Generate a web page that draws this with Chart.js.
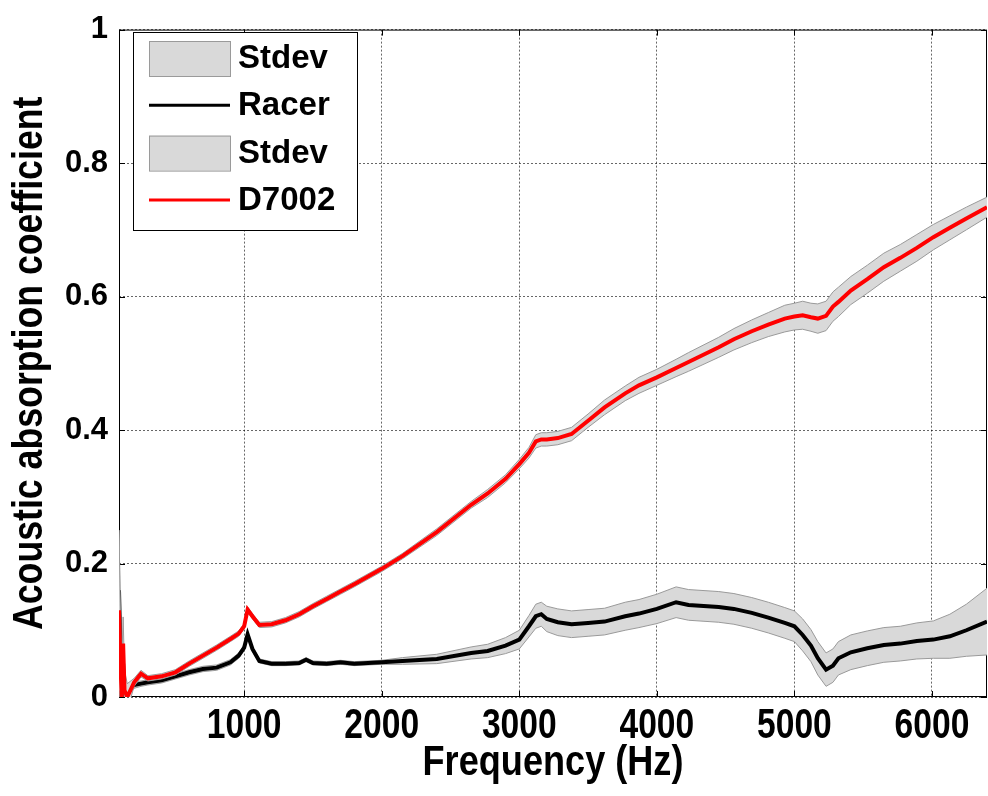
<!DOCTYPE html>
<html>
<head>
<meta charset="utf-8">
<title>Acoustic absorption coefficient</title>
<script src="https://cdn.jsdelivr.net/npm/chart.js@4.4.1/dist/chart.umd.min.js"></script>
<style>
  html, body { margin: 0; padding: 0; background: #fff; }
  #wrap { width: 988px; height: 796px; }
</style>
</head>
<body>
<div id="wrap"><canvas id="absChart" width="988" height="796"></canvas></div>
<script>
const freq = [
  90, 100, 110, 120, 130, 150, 200, 250, 300, 400,
  500, 600, 700, 800, 900, 960, 1000, 1025, 1060, 1110,
  1200, 1300, 1400, 1450, 1500, 1600, 1700, 1800, 2000, 2150,
  2400, 2650, 2770, 2900, 3000, 3070, 3120, 3160, 3200, 3280,
  3380, 3500, 3620, 3770, 3870, 4000, 4140, 4230, 4450, 4560,
  4690, 4810, 4930, 5000, 5060, 5120, 5170, 5230, 5280, 5320,
  5410, 5530, 5650, 5770, 5890, 6010, 6130, 6250, 6400
];

const racerMean = [
  0.16, 0.07, 0.02, 0.05, 0.0, 0.01, 0.018, 0.02, 0.022, 0.025,
  0.031, 0.037, 0.042, 0.044, 0.052, 0.062, 0.074, 0.094, 0.072, 0.054,
  0.05, 0.05, 0.051, 0.056, 0.051, 0.05, 0.052, 0.05, 0.052, 0.054,
  0.057, 0.066, 0.069, 0.077, 0.086, 0.106, 0.121, 0.124, 0.117, 0.112,
  0.109, 0.111, 0.113, 0.121, 0.125, 0.132, 0.142, 0.138, 0.135, 0.132,
  0.126, 0.119, 0.111, 0.106, 0.093, 0.077, 0.058, 0.041, 0.047, 0.058,
  0.067, 0.073, 0.078, 0.08, 0.084, 0.086, 0.091, 0.1, 0.113
];
const racerStd = [
  0.09, 0.06, 0.04, 0.03, 0.02, 0.01, 0.005, 0.004, 0.004, 0.004,
  0.004, 0.004, 0.004, 0.004, 0.004, 0.004, 0.004, 0.004, 0.004, 0.003,
  0.003, 0.003, 0.003, 0.003, 0.003, 0.003, 0.003, 0.003, 0.003, 0.005,
  0.007, 0.009, 0.01, 0.012, 0.014, 0.016, 0.018, 0.018, 0.019, 0.02,
  0.02, 0.02, 0.02, 0.021, 0.021, 0.022, 0.023, 0.023, 0.023, 0.023,
  0.023, 0.023, 0.023, 0.023, 0.024, 0.024, 0.025, 0.025, 0.025, 0.025,
  0.026, 0.026, 0.026, 0.026, 0.027, 0.028, 0.033, 0.039, 0.05
];

const d7002Mean = [
  0.13, 0.05, 0.0, 0.08, 0.01, 0.0, 0.022, 0.035, 0.028, 0.031,
  0.037, 0.05, 0.062, 0.074, 0.087, 0.095, 0.106, 0.131, 0.121, 0.108,
  0.109, 0.115, 0.124, 0.13, 0.136, 0.147, 0.158, 0.169, 0.192, 0.211,
  0.247, 0.288, 0.305, 0.327, 0.349, 0.366, 0.383, 0.386, 0.386, 0.388,
  0.394, 0.414, 0.434, 0.455, 0.467, 0.479, 0.493, 0.502, 0.524, 0.536,
  0.548, 0.558, 0.567, 0.57, 0.572, 0.569, 0.567, 0.571, 0.585, 0.592,
  0.609, 0.626, 0.644, 0.658, 0.673, 0.689, 0.703, 0.717, 0.734
];
const d7002Std = [
  0.12, 0.08, 0.05, 0.04, 0.03, 0.02, 0.006, 0.005, 0.004, 0.004,
  0.004, 0.004, 0.004, 0.004, 0.004, 0.004, 0.004, 0.004, 0.004, 0.004,
  0.004, 0.004, 0.004, 0.004, 0.004, 0.004, 0.004, 0.004, 0.004, 0.004,
  0.005, 0.005, 0.006, 0.006, 0.007, 0.008, 0.01, 0.01, 0.01, 0.01,
  0.01, 0.01, 0.011, 0.011, 0.012, 0.012, 0.013, 0.014, 0.015, 0.016,
  0.017, 0.018, 0.02, 0.02, 0.021, 0.021, 0.022, 0.022, 0.022, 0.022,
  0.021, 0.021, 0.021, 0.02, 0.02, 0.019, 0.018, 0.017, 0.015
];

const xTicks = [1000, 2000, 3000, 4000, 5000, 6000];
const xTickLabels = ['1000', '2000', '3000', '4000', '5000', '6000'];
const yTicks = [0, 0.2, 0.4, 0.6, 0.8, 1];
const yTickLabels = ['0', '0.2', '0.4', '0.6', '0.8', '1'];
const xTitle = 'Frequency (Hz)';
const yTitle = 'Acoustic absorption coefficient';

const FONT = "'Liberation Sans', Arial, sans-serif";
const BAND = '#d9d9d9';
const BAND_EDGE = '#9a9a9a';

const pts = vals => freq.map((f, i) => ({ x: f, y: vals[i] }));
const shifted = (vals, sd, sign) => freq.map((f, i) => ({ x: f, y: vals[i] + sign * sd[i] }));

// no narrow font installed, so squeeze bold Liberation Sans horizontally
function narrowText(ctx, text, x, y, size, squeeze, rot) {
  ctx.save();
  ctx.translate(x, y);
  if (rot) ctx.rotate(rot);
  ctx.scale(squeeze, 1);
  ctx.font = 'bold ' + size + 'px ' + FONT;
  ctx.fillStyle = '#000';
  ctx.textAlign = 'center';
  ctx.textBaseline = 'alphabetic';
  ctx.fillText(text, 0, 0);
  ctx.restore();
}

// matlab style box + inward ticks
const framePlugin = {
  id: 'frame',
  beforeDatasetsDraw(chart) {
    const { ctx, chartArea: a, scales: { x, y } } = chart;
    ctx.save();
    ctx.strokeStyle = '#000';
    ctx.lineWidth = 1;
    ctx.strokeRect(a.left + 0.5, a.top + 0.5, a.right - a.left - 1, a.bottom - a.top - 1);
    ctx.beginPath();
    const tl = 6;
    x.ticks.forEach(t => {
      const px = Math.round(x.getPixelForValue(t.value)) + 0.5;
      ctx.moveTo(px, a.bottom); ctx.lineTo(px, a.bottom - tl);
      ctx.moveTo(px, a.top); ctx.lineTo(px, a.top + tl);
    });
    y.ticks.forEach(t => {
      const py = Math.round(y.getPixelForValue(t.value)) + 0.5;
      ctx.moveTo(a.left, py); ctx.lineTo(a.left + tl, py);
      ctx.moveTo(a.right, py); ctx.lineTo(a.right - tl, py);
    });
    ctx.stroke();
    ctx.restore();
  },
  afterDraw(chart) {
    const { ctx, chartArea: a, scales: { x } } = chart;
    x.ticks.forEach((t, i) => {
      narrowText(ctx, xTickLabels[i], x.getPixelForValue(t.value), a.bottom + 41, 42, 0.8);
    });
    narrowText(ctx, xTitle, (a.left + a.right) / 2, a.bottom + 78, 43, 0.84);
    narrowText(ctx, yTitle, 42, (a.top + a.bottom) / 2, 43, 0.83, -Math.PI / 2);
  }
};

// legend box drawn inside the axes, top left
const legendPlugin = {
  id: 'boxLegend',
  afterDatasetsDraw(chart) {
    const ctx = chart.ctx;
    const items = chart.data.datasets.filter(d => d.legendKind);
    const bx = 133, by = 32, bw = 224, bh = 198;
    ctx.save();
    ctx.fillStyle = '#fff';
    ctx.fillRect(bx, by, bw, bh);
    ctx.strokeStyle = '#000';
    ctx.lineWidth = 1;
    ctx.strokeRect(bx + 0.5, by + 0.5, bw, bh);
    ctx.font = 'bold 33px ' + FONT;
    ctx.textBaseline = 'middle';
    items.forEach((d, i) => {
      const cy = by + 26 + i * 47.3;
      if (d.legendKind === 'box') {
        ctx.fillStyle = d.backgroundColor;
        ctx.fillRect(149, cy - 17, 81, 35);
        ctx.strokeStyle = d.borderColor;
        ctx.strokeRect(149.5, cy - 16.5, 81, 35);
      } else {
        ctx.strokeStyle = d.borderColor;
        ctx.lineWidth = 3;
        ctx.beginPath();
        ctx.moveTo(149, cy); ctx.lineTo(230, cy);
        ctx.stroke();
        ctx.lineWidth = 1;
      }
      ctx.fillStyle = '#000';
      ctx.fillText(d.label, 238, cy + 1);
    });
    ctx.restore();
  }
};

const bandLine = { borderColor: BAND_EDGE, borderWidth: 1, pointRadius: 0, fill: false };

new Chart(document.getElementById('absChart'), {
  type: 'line',
  data: {
    datasets: [
      { ...bandLine, label: 'racer-lo', data: shifted(racerMean, racerStd, -1), order: 5 },
      { ...bandLine, label: 'Stdev', legendKind: 'box', data: shifted(racerMean, racerStd, 1),
        fill: '-1', backgroundColor: BAND, order: 6 },
      { label: 'Racer', legendKind: 'line', data: pts(racerMean), borderColor: '#000',
        borderWidth: 4, pointRadius: 0, fill: false, order: 4 },
      { ...bandLine, label: 'd7002-lo', data: shifted(d7002Mean, d7002Std, -1), order: 2 },
      { ...bandLine, label: 'Stdev', legendKind: 'box', data: shifted(d7002Mean, d7002Std, 1),
        fill: '-1', backgroundColor: BAND, order: 3 },
      { label: 'D7002', legendKind: 'line', data: pts(d7002Mean), borderColor: '#ff0000',
        borderWidth: 4, pointRadius: 0, fill: false, order: 1 }
    ]
  },
  options: {
    responsive: false,
    animation: false,
    devicePixelRatio: 1,
    layout: { padding: { top: 18, right: 1, left: 0, bottom: 0 } },
    plugins: { legend: { display: false }, tooltip: { enabled: false } },
    elements: { line: { tension: 0 } },
    scales: {
      x: {
        type: 'linear',
        min: 90,
        max: 6400,
        afterBuildTicks: s => { s.ticks = xTicks.map(v => ({ value: v })); },
        afterFit: s => { s.height = 99; },
        ticks: { display: false },
        grid: { color: 'rgba(0,0,0,0.6)', lineWidth: 1, drawTicks: false },
        border: { display: false, dash: [2, 2] },
        title: { display: false }
      },
      y: {
        type: 'linear',
        min: 0,
        max: 1,
        afterBuildTicks: s => { s.ticks = yTicks.map(v => ({ value: v })); },
        afterFit: s => { s.width = 119; },
        ticks: { color: '#000', font: { family: FONT, weight: 'bold', size: 31 }, padding: 11,
                 callback: (v, i) => yTickLabels[i] },
        grid: { color: 'rgba(0,0,0,0.6)', lineWidth: 1, drawTicks: false },
        border: { display: false, dash: [2, 2] },
        title: { display: false }
      }
    }
  },
  plugins: [framePlugin, legendPlugin]
});
</script>
</body>
</html>
